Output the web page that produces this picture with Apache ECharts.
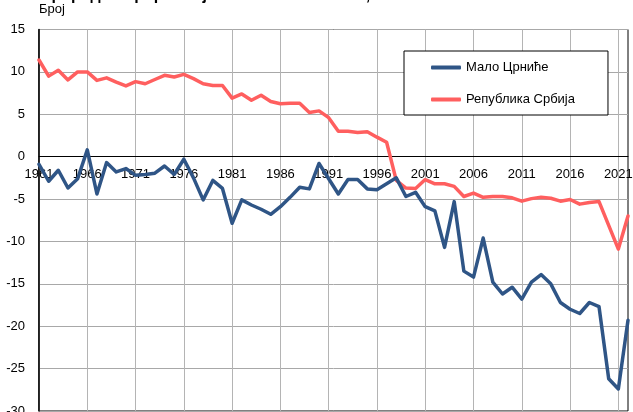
<!DOCTYPE html>
<html>
<head>
<meta charset="utf-8">
<script src="https://cdn.jsdelivr.net/npm/echarts@6/dist/echarts.min.js"></script>
<style>
  html, body { margin: 0; padding: 0; background: #fff; }
  #container { width: 633px; height: 412px; }
</style>
</head>
<body>
<div id="container"></div>
<script>
var years = [];
for (var y = 1961; y <= 2022; y++) { years.push(String(y)); }

// Мало Црниће
var maloCrnice = [
  -0.9, -2.9, -1.6, -3.7, -2.6, 0.8, -4.4, -0.7, -1.8, -1.4,
  -2.2, -2.1, -1.95, -1.1, -2.1, -0.3, -2.5, -5.1, -2.8, -3.75,
  -7.85, -5.1, -5.7, -6.2, -6.8, -5.9, -4.8, -3.6, -3.8, -0.8,
  -2.6, -4.4, -2.7, -2.7, -3.8, -3.9, -3.2, -2.5, -4.7, -4.2,
  -5.9, -6.4, -10.7, -5.3, -13.5, -14.2, -9.6, -14.8, -16.2, -15.4,
  -16.8, -14.8, -13.9, -15.0, -17.2, -18.0, -18.5, -17.2, -17.7, -26.2,
  -27.4, -19.3
];

// Република Србија
var srbija = [
  11.4, 9.5, 10.2, 9.05, 10.0, 10.0, 9.0, 9.3, 8.8, 8.35,
  8.85, 8.6, 9.1, 9.6, 9.4, 9.7, 9.2, 8.6, 8.4, 8.4,
  6.9, 7.4, 6.65, 7.25, 6.5, 6.25, 6.3, 6.3, 5.2, 5.4,
  4.6, 3.0, 3.0, 2.85, 2.95, 2.3, 1.7, -2.8, -3.7, -3.75,
  -2.7, -3.2, -3.2, -3.5, -4.7, -4.3, -4.8, -4.7, -4.7, -4.85,
  -5.25, -4.95, -4.8, -4.9, -5.25, -5.05, -5.6, -5.4, -5.3, -8.1,
  -10.9, -7.0
];

var font = 'Liberation Sans, Arial, sans-serif';
var yMin = -30, yMax = 15;
var gridTop = 29.5, gridBottom = 1;
var plotH = 412 - gridTop - gridBottom;
// x оса на нули
var zeroOffset = -plotH * (0 - yMin) / (yMax - yMin);

var myChart = echarts.init(document.getElementById('container'));
var option = {
  backgroundColor: '#FFFFFF',
  animation: false,
  textStyle: { fontFamily: font },
  title: {
    text: 'Природни прираштај на 1000 становника, 1961–2022',
    left: 40,
    top: -12,
    padding: 0,
    textStyle: { fontSize: 16, fontWeight: 'bold', color: '#000', fontFamily: font }
  },
  legend: {
    orient: 'vertical',
    left: 404,
    top: 51,
    padding: [9, 33, 8, 27],
    itemGap: 17,
    itemWidth: 30,
    itemHeight: 4,
    icon: 'roundRect',
    backgroundColor: '#fff',
    borderColor: '#000',
    borderWidth: 1,
    borderRadius: 0,
    textStyle: { fontSize: 13, color: '#000', fontFamily: font, lineHeight: 15 },
    data: ['Мало Црниће', 'Република Србија']
  },
  grid: {
    left: 39,
    right: 5,
    top: gridTop,
    bottom: gridBottom,
    show: true,
    borderColor: '#000',
    borderWidth: 1,
    containLabel: false,
    outerBoundsMode: 'none'
  },
  xAxis: {
    type: 'category',
    boundaryGap: false,
    data: years,
    offset: zeroOffset,
    axisLine: { onZero: false, lineStyle: { color: '#000', width: 1 } },
    axisTick: { show: false },
    axisLabel: { interval: 4, color: '#000', fontSize: 13, margin: 11, fontFamily: font },
    splitLine: { show: true, interval: 4, lineStyle: { color: '#b4b4b4', width: 1 } }
  },
  yAxis: {
    type: 'value',
    min: yMin,
    max: yMax,
    interval: 5,
    name: 'Број',
    nameLocation: 'end',
    nameGap: 14,
    nameTextStyle: { align: 'left', color: '#000', fontSize: 13, fontFamily: font },
    axisLine: { show: true, lineStyle: { color: '#000', width: 1.5 } },
    axisTick: { show: false },
    axisLabel: { color: '#000', fontSize: 13, margin: 14, fontFamily: font },
    splitLine: { show: true, lineStyle: { color: '#a8a8a8', width: 1 } }
  },
  series: [
    {
      name: 'Мало Црниће',
      type: 'line',
      data: maloCrnice,
      symbol: 'none',
      color: '#2F5586',
      lineStyle: { width: 3.5, color: '#2F5586', cap: 'round', join: 'round' },
      z: 3
    },
    {
      name: 'Република Србија',
      type: 'line',
      data: srbija,
      symbol: 'none',
      color: '#FF5F5F',
      lineStyle: { width: 3.5, color: '#FF5F5F', cap: 'round', join: 'round' },
      z: 2
    }
  ]
};
myChart.setOption(option);
window.onresize = function () { myChart.resize(); };
</script>
</body>
</html>
